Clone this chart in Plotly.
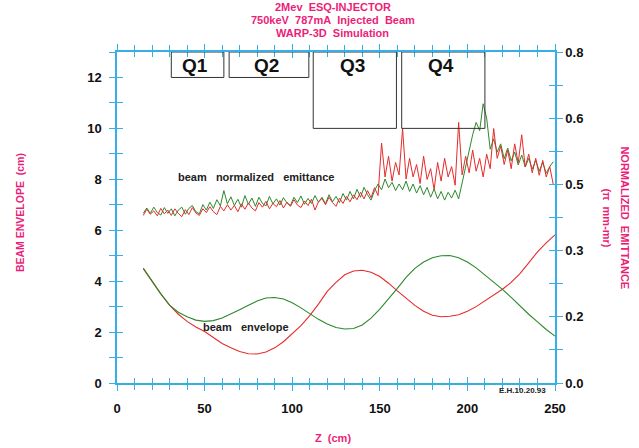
import plotly.graph_objects as go

# ---------------- data ----------------
z_env = [15, 20, 25, 30, 35, 40, 45, 50, 55, 60, 65, 70, 75, 80, 85, 90, 95, 100,
         105, 110, 115, 120, 125, 130, 135, 140, 145, 150, 155, 160, 165, 170, 175,
         180, 185, 190, 195, 200, 205, 210, 215, 220, 225, 230, 235, 240, 245, 250]
env_red = [4.50, 4.00, 3.50, 3.06, 2.70, 2.42, 2.20, 2.02, 1.78, 1.55, 1.38, 1.24,
           1.15, 1.14, 1.22, 1.38, 1.62, 1.92, 2.25, 2.65, 3.10, 3.60, 3.95, 4.25,
           4.40, 4.43, 4.35, 4.18, 3.92, 3.62, 3.32, 3.05, 2.82, 2.66, 2.60, 2.62,
           2.68, 2.82, 3.00, 3.22, 3.45, 3.68, 3.95, 4.30, 4.72, 5.15, 5.50, 5.82]
env_green = [4.50, 4.00, 3.50, 3.06, 2.78, 2.60, 2.47, 2.42, 2.45, 2.55, 2.70, 2.88,
             3.05, 3.22, 3.34, 3.36, 3.30, 3.15, 2.95, 2.72, 2.50, 2.32, 2.18, 2.12,
             2.14, 2.28, 2.55, 2.90, 3.30, 3.72, 4.15, 4.50, 4.75, 4.92, 5.00, 5.01,
             4.92, 4.75, 4.52, 4.25, 3.98, 3.68, 3.36, 3.02, 2.70, 2.40, 2.10, 1.84]

emit_red = [0.405, 0.420, 0.408, 0.416, 0.404, 0.422, 0.409, 0.418, 0.405, 0.421,
            0.410, 0.402, 0.419, 0.407, 0.424, 0.411, 0.405, 0.421, 0.412, 0.426,
            0.414, 0.407, 0.427, 0.416, 0.431, 0.418, 0.429, 0.414, 0.433, 0.420,
            0.435, 0.423, 0.416, 0.436, 0.425, 0.439, 0.421, 0.434, 0.426, 0.441,
            0.423, 0.437, 0.427, 0.443, 0.430, 0.424, 0.440, 0.429, 0.444, 0.418,
            0.438, 0.446, 0.431, 0.449, 0.436, 0.427, 0.447, 0.434, 0.451, 0.438,
            0.455, 0.443, 0.461, 0.445, 0.465, 0.448, 0.472, 0.453, 0.580, 0.498,
            0.548, 0.488, 0.533, 0.503, 0.615, 0.493, 0.543, 0.498, 0.528, 0.482,
            0.548, 0.492, 0.518, 0.468, 0.533, 0.488, 0.543, 0.498, 0.523, 0.478,
            0.630, 0.503, 0.548, 0.508, 0.563, 0.512, 0.543, 0.498, 0.553, 0.518,
            0.615, 0.543, 0.573, 0.528, 0.563, 0.518, 0.578, 0.532, 0.600, 0.522,
            0.553, 0.508, 0.543, 0.502, 0.538, 0.498, 0.523, 0.480]
emit_green = [0.410, 0.423, 0.410, 0.425, 0.412, 0.406, 0.424, 0.410, 0.421, 0.404,
              0.418, 0.425, 0.408, 0.422, 0.429, 0.414, 0.409, 0.431, 0.418, 0.437,
              0.422, 0.443, 0.428, 0.465, 0.433, 0.450, 0.429, 0.444, 0.425, 0.453,
              0.432, 0.447, 0.427, 0.449, 0.434, 0.428, 0.451, 0.433, 0.445, 0.430,
              0.448, 0.435, 0.429, 0.449, 0.436, 0.452, 0.432, 0.446, 0.434, 0.453,
              0.437, 0.449, 0.433, 0.455, 0.438, 0.451, 0.436, 0.458, 0.442, 0.463,
              0.445, 0.468, 0.449, 0.473, 0.455, 0.442, 0.465, 0.481, 0.467, 0.493,
              0.472, 0.485, 0.465, 0.481, 0.467, 0.488, 0.463, 0.481, 0.459, 0.477,
              0.455, 0.473, 0.449, 0.469, 0.445, 0.463, 0.442, 0.461, 0.447, 0.466,
              0.445, 0.485, 0.520, 0.560, 0.600, 0.630, 0.610, 0.675, 0.640, 0.565,
              0.590, 0.558, 0.578, 0.542, 0.568, 0.537, 0.558, 0.527, 0.551, 0.522,
              0.543, 0.517, 0.538, 0.512, 0.533, 0.507, 0.523, 0.535]
z_emit = [15 + 2 * i for i in range(len(emit_red))]

quad_names = ["Q1", "Q2", "Q3", "Q4"]
quad_start = [31, 64, 112, 162.5]
quad_end = [61, 109.5, 159.5, 210]
quad_bottom = [12, 12, 10, 10]
quad_top = 13

x_ticks = [0, 50, 100, 150, 200, 250]
y_ticks = [0, 2, 4, 6, 8, 10, 12]
y2_ticks = [0.0, 0.16, 0.32, 0.48, 0.64, 0.8]
y2_text = ["0.0", "0.2", "0.3", "0.5", "0.6", "0.8"]

# ---------------- style ----------------
RED = "#e62b2b"
GREEN = "#2b8a2b"
AXIS = "#35b0e6"
PINK = "#ec1e79"
FONT = "Liberation Sans"
SP = "\u00a0"

fig = go.Figure()
fig.add_trace(go.Scatter(x=z_env, y=env_red, mode="lines", line=dict(color=RED, width=1.1),
                         xaxis="x", yaxis="y", showlegend=False))
fig.add_trace(go.Scatter(x=z_env, y=env_green, mode="lines", line=dict(color=GREEN, width=1.1),
                         xaxis="x", yaxis="y", showlegend=False))
fig.add_trace(go.Scatter(x=z_emit, y=emit_green, mode="lines", line=dict(color=GREEN, width=1),
                         xaxis="x", yaxis="y2", showlegend=False))
fig.add_trace(go.Scatter(x=z_emit, y=emit_red, mode="lines", line=dict(color=RED, width=1),
                         xaxis="x", yaxis="y2", showlegend=False))
# helper traces so the inner-tick overlay axes are drawn
fig.add_trace(go.Scatter(x=[None], y=[None], xaxis="x2", yaxis="y3", showlegend=False, hoverinfo="skip"))
fig.add_trace(go.Scatter(x=[None], y=[None], xaxis="x2", yaxis="y4", showlegend=False, hoverinfo="skip"))

shapes = []
annotations = []
for name, x0, x1, yb in zip(quad_names, quad_start, quad_end, quad_bottom):
    shapes.append(dict(type="rect", xref="x", yref="y", x0=x0, x1=x1, y0=yb, y1=quad_top,
                       line=dict(color="#333333", width=1), fillcolor="rgba(0,0,0,0)"))
    annotations.append(dict(x=(x0 + x1) / 2 - 1.5, y=12.48, xref="x", yref="y",
                            xanchor="center", yanchor="middle",
                            text="<b>%s</b>" % name, showarrow=False,
                            font=dict(family=FONT, size=19, color="#111111")))

tickfont = dict(family=FONT, size=13, color="#111111", weight="bold")


def ann(x, y, text, size, color, angle=0, xref="paper", yref="paper"):
    return dict(x=x, y=y, xref=xref, yref=yref, xanchor="center", yanchor="middle",
                showarrow=False, textangle=angle, text="<b>%s</b>" % text,
                font=dict(family=FONT, size=size, color=color))


annotations += [
    ann(0.493, 1.136, "2Mev" + SP * 2 + "ESQ-INJECTOR", 11, PINK),
    ann(0.493, 1.097, "750keV" + SP * 2 + "787mA" + SP * 2 + "Injected" + SP * 2 + "Beam", 11, PINK),
    ann(0.493, 1.057, "WARP-3D" + SP * 2 + "Simulation", 11, PINK),
    ann(-0.221, 0.514, "BEAM ENVELOPE" + SP * 2 + "(cm)", 10.5, PINK, -90),
    ann(1.16, 0.50, "NORMALIZED" + SP * 2 + "EMITTANCE", 11, PINK, 90),
    ann(1.119, 0.50, "(π" + SP * 2 + "mm-mr)", 11, PINK, 90),
    ann(0.493, -0.166, "Z" + SP * 2 + "(cm)", 11, PINK),
    ann(0.925, -0.024, "E.H.10.20.93", 8, "#222222"),
    ann(79.5, 8.08, "beam" + SP * 3 + "normalized" + SP * 3 + "emittance", 11, "#222222",
        xref="x", yref="y"),
    ann(73.4, 2.21, "beam" + SP * 3 + "envelope", 11, "#222222", xref="x", yref="y"),
]

common = dict(showgrid=False, zeroline=False)
fig.update_layout(
    width=639, height=448,
    margin=dict(l=117, r=84, t=52, b=65),
    paper_bgcolor="white", plot_bgcolor="white",
    showlegend=False,
    font=dict(family=FONT),
    xaxis=dict(range=[0, 250], tickvals=x_ticks, ticks="outside", ticklen=6, tickwidth=1,
               tickcolor=AXIS, showline=True, linecolor=AXIS, linewidth=1.5, mirror="ticks",
               minor=dict(tick0=0, dtick=10, ticks="outside", ticklen=5, tickcolor=AXIS),
               tickfont=tickfont, ticklabelstandoff=7, **common),
    xaxis2=dict(range=[0, 250], overlaying="x", tickvals=x_ticks, ticks="inside", ticklen=6,
                tickcolor=AXIS, showticklabels=False, showline=False, mirror="ticks",
                minor=dict(tick0=0, dtick=10, ticks="inside", ticklen=5, tickcolor=AXIS), **common),
    yaxis=dict(range=[0, 13], tickvals=y_ticks, ticks="outside", ticklen=6, tickwidth=1,
               tickcolor=AXIS, showline=True, linecolor=AXIS, linewidth=1.5,
               minor=dict(tick0=0, dtick=1, ticks="outside", ticklen=6, tickcolor=AXIS),
               tickfont=tickfont, ticklabelstandoff=5, **common),
    yaxis2=dict(range=[0, 0.8], overlaying="y", side="right", tickvals=y2_ticks, ticktext=y2_text,
                ticks="outside", ticklen=6, tickwidth=1, tickcolor=AXIS, showline=True,
                linecolor=AXIS, linewidth=1.5,
                minor=dict(tick0=0, dtick=0.08, ticks="outside", ticklen=6, tickcolor=AXIS),
                tickfont=dict(family=FONT, size=13, color="#111111", weight="bold"), **common),
    yaxis3=dict(range=[0, 13], overlaying="y", side="left", anchor="x2", tickvals=y_ticks,
                ticks="inside", ticklen=6, tickcolor=AXIS, showticklabels=False, showline=False,
                minor=dict(tick0=0, dtick=1, ticks="inside", ticklen=6, tickcolor=AXIS), **common),
    yaxis4=dict(range=[0, 0.8], overlaying="y", side="right", anchor="x2", tickvals=y2_ticks,
                ticks="inside", ticklen=6, tickcolor=AXIS, showticklabels=False, showline=False,
                minor=dict(tick0=0, dtick=0.08, ticks="inside", ticklen=6, tickcolor=AXIS), **common),
    shapes=shapes,
    annotations=annotations,
)

fig.write_html("out.html", config={"displayModeBar": False},
               post_script="document.body.style.margin='0';")
